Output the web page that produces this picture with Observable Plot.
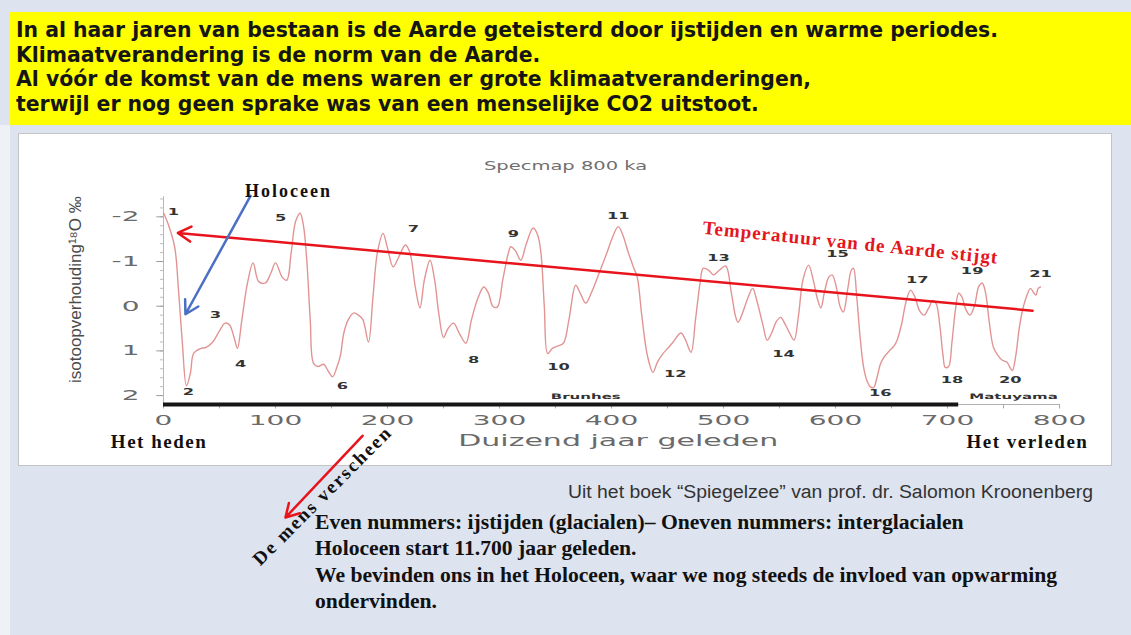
<!DOCTYPE html>
<html><head><meta charset="utf-8">
<script src="https://cdn.jsdelivr.net/npm/d3@7"></script>
<script src="https://cdn.jsdelivr.net/npm/@observablehq/plot@0.6"></script>
<style>
html,body{margin:0;padding:0;}
body{width:1131px;height:635px;position:relative;overflow:hidden;background:#dde4f0;}
#leftstrip{position:absolute;left:0;top:125px;width:10px;height:510px;background:#eef1f6;}
#yellow{position:absolute;left:10px;top:12px;width:1121px;height:113px;background:#ffff00;}
#header{position:absolute;left:16px;top:18px;font:bold 21px/24.5px "DejaVu Sans";color:#151515;white-space:nowrap;transform-origin:0 0;}
#box{position:absolute;left:18px;top:133px;width:1092px;height:331px;background:#fff;border:1px solid #c4c4c4;}
#chart{position:absolute;left:20px;top:135px;}
#source{position:absolute;left:568px;top:482px;font:18px "Liberation Sans";color:#333;white-space:nowrap;transform-origin:0 0;}
#notes{position:absolute;left:315px;top:509px;font:bold 20px/26.4px "Liberation Serif";color:#111;white-space:nowrap;transform-origin:0 0;}
</style></head>
<body>
<div id="leftstrip"></div>
<div id="yellow"></div>
<div id="header">In al haar jaren van bestaan is de Aarde geteisterd door ijstijden en warme periodes.<br>Klimaatverandering is de norm van de Aarde.<br>Al vóór de komst van de mens waren er grote klimaatveranderingen,<br>terwijl er nog geen sprake was van een menselijke CO2 uitstoot.</div>
<div id="box"></div>
<div id="chart"></div>
<div id="source">Uit het boek “Spiegelzee” van prof. dr. Salomon Kroonenberg</div>
<div id="notes">Even nummers: ijstijden (glacialen)– Oneven nummers: interglacialen<br>Holoceen start 11.700 jaar geleden.<br>We bevinden ons in het Holoceen, waar we nog steeds de invloed van opwarming<br>ondervinden.</div>
<script>
// Specmap δ18O record, thousand years ago (ka) and value (‰)
const ka = [0,4,10,13.4,16.7,20.5,24,27,33,38,44,50,55,59,63,66,70,75,80,85,91,96,100,106,110,114,118,122,125,128,131,134,138,143,147,151,155,158,161,165,170,174,178,183,187,191,196,200,205,210,216,220,225,229,233,238,242,246,250,254,259,264,270,275,281,286,290,294,298,303,308,310,314,319,324,330,334,337,340,343,347,351,357,362,368,372,377,382,390,396,401,406,410,415,420,423,427,432,437,441,446,450,455,462,466,471,475,479,482,487,491,496,502,507,511,513,517,522,526,530,535,539,543,547,551,555,559,563,567,571,576,580,584,587,590,594,597,601,604,607,611,614,616,619,622,625,628,631,634,637,640,643,648,652,655,659,663,667,671,675,679,683,687,690,693,696,698,701,704,707,710,713,716,720,724,728,731,734,737,741,745,749,753,756,758,761,764,767,771,774,777,779,781,783];
const d18O = [-2.09,-1.85,-1.32,-0.36,0.77,1.78,1.5,1.05,0.95,0.92,0.8,0.55,0.38,0.42,0.7,0.94,0.3,-0.52,-0.97,-0.55,-0.52,-0.75,-0.97,-0.65,-0.58,-1.2,-1.9,-2.08,-1.8,-1.0,0.3,1.28,1.35,1.3,1.45,1.58,1.35,1.1,0.6,0.3,0.15,0.2,0.3,0.8,-0.2,-1.2,-1.63,-1.3,-0.88,-1.1,-1.37,-1.2,-0.4,0.04,-0.6,-1.03,-0.6,0.2,0.7,0.5,0.38,0.6,0.83,0.3,-0.2,-0.43,-0.3,0.0,0.02,-0.6,-1.2,-1.33,-1.25,-1.03,-1.4,-1.75,-1.6,-1.19,0.0,1.06,0.95,0.9,0.83,0.3,-0.47,-0.3,-0.07,-0.3,-0.81,-1.2,-1.55,-1.78,-1.6,-1.2,-0.85,-0.65,0.2,1.1,1.48,1.25,1.06,0.95,0.8,0.6,0.75,1.03,0.3,-0.5,-0.85,-0.8,-0.7,-0.8,-0.9,-0.3,0.25,0.36,0.15,-0.2,-0.4,-0.1,0.4,0.76,0.6,0.35,0.25,0.4,0.6,0.76,0.2,-0.6,-0.92,-0.6,-0.15,0.04,-0.3,-0.65,-0.7,-0.4,0.0,0.13,-0.4,-0.8,-0.85,-0.2,0.7,1.35,1.66,1.8,1.82,1.6,1.3,1.15,1.0,0.9,0.76,0.4,-0.1,-0.36,-0.2,0.1,0.2,0.05,-0.13,-0.05,0.4,1.1,1.37,1.35,0.8,0.1,-0.29,-0.2,0.05,0.2,0.0,-0.45,-0.52,-0.3,0.3,0.92,1.1,1.21,1.25,1.38,1.44,1.1,0.5,0.09,-0.25,-0.4,-0.3,-0.25,-0.4,-0.43];

// Marine isotope stage labels
const misNumber = [1,2,3,4,5,6,7,8,9,10,11,12,13,14,15,16,17,18,19,20,21];
const misKa     = [8.9,22.3,46.4,68.8,104.5,159.8,223,276.8,312.5,352.7,406,457,495.5,553.6,601.8,640,673,704,722,756,783];
const misValue  = [-2.11,1.92,0.21,1.29,-1.98,1.78,-1.73,1.2,-1.62,1.36,-2.02,1.51,-1.08,1.07,-1.17,1.94,-0.59,1.65,-0.79,1.65,-0.72];

// Axes
const xTicks = [0,100,200,300,400,500,600,700,800];
const xMinorTicks = [0,50,100,150,200,250,300,350,400,450,500,550,600,650,700,750,800];
const yTicks = [-2,-1,0,1,2];
const yMinorTicks = [-2.4,-2.2,-2,-1.8,-1.6,-1.4,-1.2,-1,-0.8,-0.6,-0.4,-0.2,0,0.2,0.4,0.6,0.8,1,1.2,1.4,1.6,1.8,2];
const brunhesEnd = 710;

// Annotations (data units)
const trendArrow = [{x1: 776, y1: 0.10, x2: 12.8, y2: -1.64}];
const holoceneArrow = [{x1: 77.7, y1: -2.47, x2: 19.6, y2: 0.18}];
const humanArrow = [{x1: 177.7, y1: 2.90, x2: 108.9, y2: 4.73}];

const series = ka.map((k, i) => ({ka: k, v: d18O[i]}));
const mis = misNumber.map((n, i) => ({n, ka: misKa[i], v: misValue[i]}));

const serif = "Liberation Serif, Times New Roman, serif";
const sans = "DejaVu Sans, Verdana, sans-serif";

const plot = Plot.plot({
  width: 1090, height: 435,
  marginLeft: 143, marginRight: 51, marginTop: 59, marginBottom: 166,
  x: {domain: [0, 800], axis: null},
  y: {domain: [2.2, -2.5], axis: null},
  style: {background: "transparent", overflow: "visible"},
  marks: [
    // y axis
    Plot.ruleX([0], {y1: -2.45, y2: 2.2, stroke: "#b8b8b8", strokeWidth: 1}),
    Plot.ruleY(yMinorTicks, {y: d => d, x1: -2.7, x2: 0, stroke: "#bdbdbd"}),
    Plot.ruleY(yTicks, {y: d => d, x1: -6, x2: 0, stroke: "#9a9a9a"}),
    Plot.text(yTicks, {x: 0, y: d => d, text: d => String(d), dx: -24, textAnchor: "end", fontSize: 14, fontFamily: sans, fill: "#6a6a6a", ariaDescription: "wide2"}),
    Plot.text(["isotoopverhouding¹⁸O ‰"], {x: -78.6, y: -0.37, text: d => d, rotate: -90, fontSize: 17, fontFamily: "Liberation Sans, Arial, sans-serif", fill: "#4a4a4a"}),
    // x axis
    Plot.ruleX(xMinorTicks, {x: d => d, y1: 2.2, y2: 2.3, stroke: "#a8a8a8"}),
    Plot.ruleY([2.2], {x1: brunhesEnd, x2: 800, stroke: "#b0b0b0", strokeWidth: 1.2}),
    Plot.ruleY([2.2], {x1: 0, x2: brunhesEnd, stroke: "#161616", strokeWidth: 4}),
    Plot.text(xTicks, {x: d => d, y: 2.2, dy: 16, text: d => String(d), fontSize: 14, fontFamily: sans, fill: "#6a6a6a", ariaDescription: "wide2"}),
    Plot.text(["Duizend jaar geleden"], {x: 406, y: 3.03, text: d => d, fontSize: 15, fontFamily: sans, fill: "#6a6a6a", ariaDescription: "wide2"}),
    Plot.text(["Specmap 800 ka"], {x: 359, y: -3.14, text: d => d, fontSize: 13, fontFamily: sans, fill: "#6f6f6f", ariaDescription: "wide15"}),
    Plot.text(["Brunhes"], {x: 377, y: 2.02, text: d => d, fontSize: 7.5, fontWeight: "bold", fontFamily: sans, fill: "#333", ariaDescription: "wide2"}),
    Plot.text(["Matuyama"], {x: 759, y: 2.02, text: d => d, fontSize: 7.5, fontWeight: "bold", fontFamily: sans, fill: "#333", ariaDescription: "wide2"}),
    // data
    Plot.line(series, {x: "ka", y: "v", curve: "catmull-rom", stroke: "#e29494", strokeWidth: 1.4}),
    Plot.text(mis, {x: "ka", y: "v", text: d => String(d.n), fontSize: 9, fontWeight: "bold", fontFamily: sans, fill: "#333", ariaDescription: "wide18"}),
    // annotations
    Plot.arrow(trendArrow, {x1: "x1", y1: "y1", x2: "x2", y2: "y2", stroke: "#e8141c", strokeWidth: 2.5, headLength: 9}),
    Plot.arrow(holoceneArrow, {x1: "x1", y1: "y1", x2: "x2", y2: "y2", stroke: "#4a6fc4", strokeWidth: 2.5, headLength: 9}),
    Plot.arrow(humanArrow, {x1: "x1", y1: "y1", x2: "x2", y2: "y2", stroke: "#e8141c", strokeWidth: 2.5, headLength: 9}),
    Plot.text(["Holoceen"], {x: 111.6, y: -2.58, text: d => d, fontSize: 18, fontWeight: "bold", fontFamily: serif, fill: "#111", ariaDescription: "spaced2"}),
    Plot.text(["Het heden"], {x: -4, y: 3.03, text: d => d, fontSize: 19, fontWeight: "bold", fontFamily: serif, fill: "#111", ariaDescription: "spaced15"}),
    Plot.text(["Het verleden"], {x: 771.4, y: 3.04, text: d => d, fontSize: 19, fontWeight: "bold", fontFamily: serif, fill: "#111", ariaDescription: "spaced15"}),
    Plot.text(["De mens verscheen"], {x: 142, y: 4.24, text: d => d, rotate: -45, fontSize: 19, fontWeight: "bold", fontFamily: serif, fill: "#111", ariaDescription: "spaced2"}),
    Plot.text(["Temperatuur van de Aarde stijgt"], {x: 613.4, y: -1.42, text: d => d, rotate: 5.8, fontSize: 19, fontWeight: "bold", fontFamily: serif, fill: "#e4161d", ariaDescription: "spaced1"})
  ]
});

document.getElementById("chart").appendChild(plot);

function groupTexts(svg, label) {
  return svg.querySelectorAll(`g[aria-description="${label}"] text`);
}
// widen glyphs (the reference chart is stretched horizontally)
function stretch(svg, label, sx) {
  groupTexts(svg, label).forEach(t => {
    const w = t.getComputedTextLength();
    t.setAttribute("textLength", (w * sx).toFixed(1));
    t.setAttribute("lengthAdjust", "spacingAndGlyphs");
  });
}
function space(svg, label, px) {
  groupTexts(svg, label).forEach(t => t.style.letterSpacing = px + "px");
}
stretch(plot, "wide2", 2.0);
stretch(plot, "wide18", 1.8);
stretch(plot, "wide15", 1.5);
space(plot, "spaced2", 2);
space(plot, "spaced15", 1.5);
space(plot, "spaced1", 1);

// fit HTML text blocks to the widths seen in the reference
function fitWidth(id, target) {
  const el = document.getElementById(id);
  el.style.display = "inline-block";
  const w = el.getBoundingClientRect().width;
  el.style.transform = `scaleX(${target / w})`;
}
fitWidth("header", 982);
fitWidth("source", 525);
fitWidth("notes", 742);
</script>
</body></html>
